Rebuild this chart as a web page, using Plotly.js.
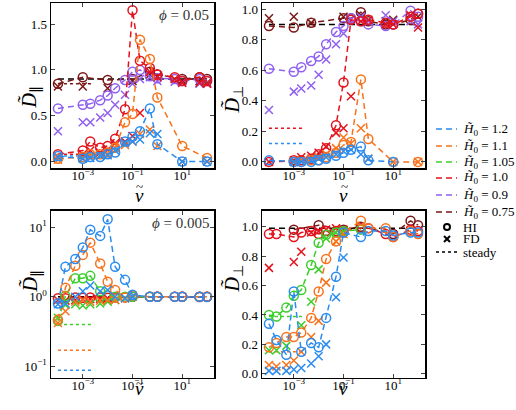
<!DOCTYPE html>
<html><head><meta charset="utf-8">
<script src="https://cdn.plot.ly/plotly-3.0.1.min.js"></script>
<style>body{margin:0;padding:0;background:#fff}#c{width:516px;height:410px}</style>
</head><body><div id="c"></div>
<script>
const n = null;
const nu = [1e-4, 2e-4, 5e-4, 1e-3, 2e-3, 5e-3, 1e-2, 2e-2, 5e-2, 0.1, 0.2, 0.5, 1, 5, 10, 50, 100];
const H0 = ['1.2', '1.1', '1.05', '1.0', '0.9', '0.75'];
const colors = ['#2a8cf0', '#f8731c', '#3ccf2c', '#e3121c', '#9060f0', '#7a1616'];
const legendExtra = ['HI', 'FD', 'steady'];

// Top-left: D_par, phi = 0.05
const tlHI = [
  [0.06, n, n, 0.03, 0.05, 0.05, 0.08, 0.10, 0.22, 0.27, 0.33, 0.58, 0.19, n, 0.0, n, 0.0],
  [0.03, n, n, 0.05, 0.08, 0.08, 0.10, 0.15, 0.43, 0.52, 1.33, 1.12, 0.70, n, 0.17, n, 0.04],
  null,
  [0.08, n, n, 0.12, 0.22, 0.15, 0.17, 0.25, 0.57, 1.65, 1.10, 1.02, 0.95, 0.92, 0.88, 0.92, 0.88],
  [0.58, n, n, 0.62, 0.63, 0.67, 0.72, 0.80, 0.89, 0.98, 1.00, 0.93, 0.91, 0.90, 0.88, 0.90, 0.88],
  [0.85, n, n, 0.92, n, n, 0.89, n, n, 0.90, n, 0.98, 0.95, n, 0.90, 0.92, 0.90]
];
const tlFD = [
  [0.05, n, n, 0.03, 0.04, 0.06, 0.07, 0.12, 0.20, 0.22, 0.24, 0.31, 0.30, n, 0.0, n, 0.0],
  [0.02, n, n, 0.04, 0.06, 0.07, 0.08, 0.15, 0.18, 0.22, 0.30, 0.35, 0.17, n, 0.0, n, 0.0],
  null,
  [0.05, n, n, 0.08, 0.12, 0.10, 0.13, 0.20, 0.22, 0.28, 0.53, 0.98, 0.92, 0.90, 0.86, 0.86, 0.85],
  [0.33, n, n, 0.43, 0.43, 0.48, 0.53, 0.62, 0.73, 0.85, 0.90, 0.92, 0.88, 0.87, 0.86, 0.85, 0.85],
  [0.82, n, n, 0.82, n, n, 0.80, n, n, 0.88, n, 0.95, 0.93, n, 0.88, 0.88, 0.86]
];
const tlSteady = [0.06, n, n, 0.08, n, 0.85];
const tlRef = 0.9;

// Top-right: D_perp, phi = 0.05
const trHI = [
  [0.01, n, n, 0.0, 0.0, 0.0, 0.01, 0.02, 0.04, 0.06, 0.08, 0.10, 0.01, n, 0.0, n, n],
  [n, n, n, 0.0, 0.0, 0.01, 0.01, 0.03, 0.06, 0.11, 0.13, 0.54, 0.15, n, 0.0, n, 0.0],
  null,
  [0.0, n, n, 0.01, 0.01, 0.02, 0.05, 0.09, 0.24, 0.52, 0.93, 0.92, 0.93, 0.91, 0.90, 0.95, 0.97],
  [0.61, n, n, 0.59, 0.62, 0.66, 0.69, 0.77, 0.85, 0.89, 0.94, 0.92, 0.90, 0.89, 0.90, 0.99, 0.95],
  [0.89, n, n, 0.88, n, 0.91, n, n, n, 0.94, 0.94, 0.98, 0.92, 0.90, 0.90, 0.93, 0.97]
];
const trFD = [
  [n, n, n, 0.0, 0.0, 0.01, 0.02, 0.03, 0.05, 0.07, 0.08, 0.05, 0.02, n, n, n, n],
  [n, n, n, 0.0, 0.01, 0.02, 0.03, 0.05, 0.09, 0.16, 0.12, 0.22, 0.02, n, 0.0, n, 0.0],
  null,
  [0.0, n, n, 0.01, 0.03, 0.04, 0.06, 0.10, 0.19, 0.22, 0.43, 0.92, 0.93, 0.90, 0.90, 0.96, 0.88],
  [0.34, n, n, 0.46, 0.48, 0.50, 0.57, 0.67, 0.77, 0.84, 0.93, 0.95, 0.92, 0.96, 0.92, 0.92, 0.90],
  [0.94, n, n, 0.95, n, 0.91, n, n, n, 0.95, n, 0.96, n, 0.92, 0.93, n, 0.95]
];
const trSteady = [0.12, n, n, 0.22, n, n];
const trRef = 0.9;

// Bottom-left: D_par, phi = 0.005 (log)
const blHI = [
  [0.80, 2.7, 3.5, 5.1, 9.2, 7.5, 13.0, 2.7, 1.75, 1.07, n, 1.0, 1.0, 1.0, 1.0, 1.0, 0.99],
  [0.47, 1.35, 2.8, 4.0, 6.0, 3.0, 1.65, 1.25, 0.98, 1.05, n, 1.0, 1.0, 1.0, 1.0, 1.0, 1.0],
  [0.45, 1.03, 1.85, 1.85, 2.0, 1.2, 1.05, 1.0, 1.0, 1.0, n, 1.0, n, n, n, n, n],
  [0.95, 0.95, 0.98, 0.97, 0.98, 0.98, 0.97, 0.98, 0.98, 1.0, n, 1.0, 1.0, 1.0, 1.0, 1.0, 1.0],
  null,
  [n, n, n, n, n, n, n, n, n, n, n, n, 1.0, n, 1.0, 0.99, 1.0]
];
const blFD = [
  [0.78, 0.80, 1.0, 1.2, 1.45, 1.2, 1.25, 1.0, 0.95, 1.0, n, n, n, n, n, n, n],
  [0.42, 0.62, 0.85, 0.90, 0.85, 0.88, 0.90, 0.90, 0.95, 1.0, n, n, n, n, n, n, n],
  [0.50, 0.76, 0.78, 0.75, 0.78, 0.80, 0.85, 0.90, 0.95, n, n, n, n, n, n, n, n],
  [0.90, 0.88, 0.90, 0.92, 0.93, 0.94, 0.95, n, n, n, n, n, n, n, n, n, n],
  null,
  null
];
const blSteady = [0.088, 0.17, 0.40, n, n, n];
const blRef = 1.0;

// Bottom-right: D_perp, phi = 0.005
const brHI = [
  [0.34, 0.23, 0.13, 0.56, 0.15, 0.21, 0.18, 0.38, 0.66, 0.96, n, 0.93, 0.97, 0.97, 0.94, 0.96, 0.96],
  [0.18, 0.21, 0.25, 0.25, 0.28, 0.38, 0.56, 0.78, 0.90, 0.96, n, 1.04, 0.99, 0.99, 0.93, 0.97, 0.95],
  [0.40, 0.39, 0.45, 0.53, 0.57, 0.74, 0.89, 0.945, 0.96, 0.97, n, 0.98, n, n, n, n, n],
  [0.95, 0.95, n, 0.93, 0.96, 0.97, 0.95, 0.97, 0.97, 0.97, n, 0.99, 0.99, 0.95, 0.93, 0.98, 0.97],
  null,
  [n, n, n, 0.98, n, n, 1.01, n, n, 0.98, n, 1.0, n, n, 0.95, 1.04, 1.01]
];
const brFD = [
  [0.02, 0.02, 0.02, 0.03, 0.04, 0.07, 0.12, 0.20, 0.52, 0.79, n, n, n, n, n, n, n],
  [0.06, 0.05, 0.06, 0.09, 0.15, 0.25, 0.36, 0.62, 0.90, 0.95, n, n, n, n, n, n, n],
  [0.16, 0.16, 0.19, n, 0.33, 0.49, 0.71, 0.92, 0.96, 0.97, n, n, n, n, n, n, n],
  [0.72, n, n, 0.76, 0.83, 0.96, 0.97, 0.98, 0.99, 0.98, n, n, n, n, n, n, n],
  null,
  null
];
const brSteady = [n, 0.15, 0.39, n, n, n];
const brRef = 0.99;

const steadyNu = [1e-4, 2.5e-3];
const refNu = [nu[0], nu[nu.length - 1]];
const DASH = '6px,4px';

const traces = [];
function panel(ax, HI, FD, steady, ref) {
  const xa = 'x' + ax, ya = 'y' + ax;
  traces.push({x: refNu, y: [ref, ref], xaxis: xa, yaxis: ya, mode: 'lines', showlegend: false,
    line: {color: '#000', width: 1.5, dash: DASH}});
  for (let i = H0.length - 1; i >= 0; i--) {
    if (steady[i] != null) {
      traces.push({x: steadyNu, y: [steady[i], steady[i]], xaxis: xa, yaxis: ya, mode: 'lines', showlegend: false,
        line: {color: colors[i], width: 1.5, dash: 'dot'}});
    }
  }
  for (let i = H0.length - 1; i >= 0; i--) {
    if (FD[i]) traces.push({x: nu, y: FD[i], xaxis: xa, yaxis: ya, mode: 'markers', showlegend: false,
      marker: {symbol: 'x-thin-open', size: 8, color: colors[i], line: {width: 1.5, color: colors[i]}}});
    if (HI[i]) traces.push({x: nu, y: HI[i], xaxis: xa, yaxis: ya, mode: 'lines+markers', connectgaps: true, showlegend: false,
      line: {color: colors[i], width: 1.5, dash: DASH},
      marker: {symbol: 'circle-open', size: 9, color: colors[i], line: {width: 1.5, color: colors[i]}}});
  }
}
panel('', tlHI, tlFD, tlSteady, tlRef);
panel('2', trHI, trFD, trSteady, trRef);
panel('3', blHI, blFD, blSteady, blRef);
panel('4', brHI, brFD, brSteady, brRef);

const FAM = 'Liberation Serif';
const font = {family: FAM, size: 13, color: '#000'};
const xTicks = {tickvals: [1e-3, 1e-1, 10], ticktext: ['10<sup>−3</sup>', '10<sup>−1</sup>', '10<sup>1</sup>']};
function xax(dom, anchor) {
  return Object.assign({type: 'log', range: [-4.28, 2.28], domain: dom, anchor: anchor,
    showline: true, mirror: 'ticks', linecolor: '#000', linewidth: 1.5, ticks: 'inside', ticklen: 4, tickwidth: 1,
    ticklabelstandoff: -5,
    showgrid: false, zeroline: false, tickfont: {family: FAM, size: 13, color: '#000'}}, xTicks);
}
function yax(dom, anchor, extra) {
  return Object.assign({domain: dom, anchor: anchor, showline: true, mirror: 'ticks', linecolor: '#000', linewidth: 1.5,
    ticks: 'inside', ticklen: 4, tickwidth: 1, showgrid: false, zeroline: false, tickfont: {family: FAM, size: 13, color: '#000'}}, extra);
}
const W = 516, Hh = 410;
const px = v => v / W, py = v => 1 - v / Hh;
const dx1 = [px(51), px(214)], dx2 = [px(262), px(425)];
const dyT = [py(168), py(3)], dyB = [py(377.5), py(210.5)];

const annFont = {family: FAM, size: 20, color: '#000'};
const annotations = [
  {text: '<i>ϕ</i> = 0.05', xref: 'x domain', yref: 'y domain', x: 0.98, y: 0.985, xanchor: 'right', yanchor: 'top', showarrow: false, font: {family: FAM, size: 15, color: '#333'}},
  {text: '<i>ϕ</i> = 0.005', xref: 'x3 domain', yref: 'y3 domain', x: 0.98, y: 0.985, xanchor: 'right', yanchor: 'top', showarrow: false, font: {family: FAM, size: 15, color: '#333'}},
  {text: '<i>D̃</i><sub>∥</sub>', xref: 'paper', yref: 'paper', x: px(16), y: py(85), textangle: -90, showarrow: false, font: annFont},
  {text: '<i>D̃</i><sub>∥</sub>', xref: 'paper', yref: 'paper', x: px(16), y: py(295), textangle: -90, showarrow: false, font: annFont},
  {text: '<i>D̃</i><sub>⊥</sub>', xref: 'paper', yref: 'paper', x: px(233), y: py(85), textangle: -90, showarrow: false, font: annFont},
  {text: '<i>D̃</i><sub>⊥</sub>', xref: 'paper', yref: 'paper', x: px(233), y: py(295), textangle: -90, showarrow: false, font: annFont}
];
// x-axis title: italic nu with a tilde placed above it
[[133, 195], [343, 195], [133, 401], [343, 401]].forEach(([cx, cy]) => {
  annotations.push({text: '<i>ν</i>', xref: 'paper', yref: 'paper', x: px(cx), y: py(cy), showarrow: false,
    font: {family: FAM, size: 19, color: '#000'}});
  annotations.push({text: '~', xref: 'paper', yref: 'paper', x: px(cx + 1), y: py(cy - 8), showarrow: false,
    font: {family: FAM, size: 13, color: '#000'}});
});

// custom legend
const shapes = [];
const rowY = [129, 146, 162, 178, 195, 212, 227, 239, 252];
const lx0 = 436, lx1 = 457, ltx = 461;
H0.forEach((h, i) => {
  shapes.push({type: 'line', xref: 'paper', yref: 'paper', x0: px(lx0), x1: px(lx1), y0: py(rowY[i]), y1: py(rowY[i]),
    line: {color: colors[i], width: 1.5, dash: DASH}});
  annotations.push({text: '<i>H̃</i><sub>0</sub> = ' + h, xref: 'paper', yref: 'paper', x: px(ltx), y: py(rowY[i]),
    xanchor: 'left', yanchor: 'middle', showarrow: false, font: {family: FAM, size: 13, color: '#000'}});
});
const cxm = 447, r = 3;
shapes.push({type: 'circle', xref: 'paper', yref: 'paper', x0: px(cxm - r), x1: px(cxm + r), y0: py(rowY[6] + r), y1: py(rowY[6] - r),
  line: {color: '#000', width: 2}});
shapes.push({type: 'line', xref: 'paper', yref: 'paper', x0: px(cxm - r), x1: px(cxm + r), y0: py(rowY[7] - r), y1: py(rowY[7] + r), line: {color: '#000', width: 2}});
shapes.push({type: 'line', xref: 'paper', yref: 'paper', x0: px(cxm - r), x1: px(cxm + r), y0: py(rowY[7] + r), y1: py(rowY[7] - r), line: {color: '#000', width: 2}});
shapes.push({type: 'line', xref: 'paper', yref: 'paper', x0: px(lx0), x1: px(lx1), y0: py(rowY[8]), y1: py(rowY[8]), line: {color: '#000', width: 1.5, dash: 'dot'}});
legendExtra.forEach((t, k) => annotations.push({text: t, xref: 'paper', yref: 'paper', x: px(ltx), y: py(rowY[6 + k]),
  xanchor: 'left', yanchor: 'middle', showarrow: false, font: {family: FAM, size: 13, color: '#000'}}));

const layout = {
  width: W, height: Hh, margin: {l: 0, r: 0, t: 0, b: 0}, paper_bgcolor: '#fff', plot_bgcolor: '#fff',
  font: font, showlegend: false,
  xaxis: xax(dx1, 'y'), yaxis: yax(dyT, 'x', {range: [-0.07, 1.73], tickvals: [0, 0.5, 1, 1.5], ticktext: ['0.0', '0.5', '1.0', '1.5']}),
  xaxis2: xax(dx2, 'y2'), yaxis2: yax(dyT, 'x2', {range: [-0.04, 1.04], tickvals: [0, 0.2, 0.4, 0.6, 0.8, 1.0], ticktext: ['0.0', '0.2', '0.4', '0.6', '0.8', '1.0']}),
  xaxis3: xax(dx1, 'y3'), yaxis3: yax(dyB, 'x3', {type: 'log', range: [-1.16, 1.24], tickvals: [0.1, 1, 10], ticktext: ['10<sup>−1</sup>', '10<sup>0</sup>', '10<sup>1</sup>']}),
  xaxis4: xax(dx2, 'y4'), yaxis4: yax(dyB, 'x4', {range: [-0.025, 1.11], tickvals: [0, 0.2, 0.4, 0.6, 0.8, 1.0], ticktext: ['0.0', '0.2', '0.4', '0.6', '0.8', '1.0']}),
  annotations: annotations, shapes: shapes
};
Plotly.newPlot('c', traces, layout, {displayModeBar: false, staticPlot: true});
</script></body></html>
